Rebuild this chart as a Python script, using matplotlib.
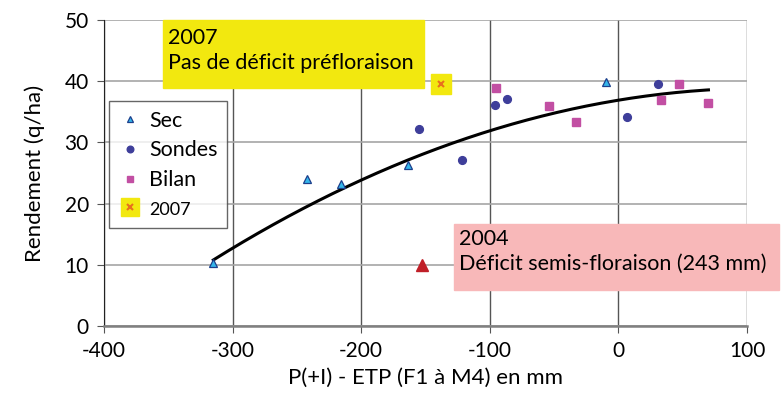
import matplotlib
matplotlib.use("Agg")
import matplotlib.pyplot as plt
from matplotlib.patches import Rectangle
from matplotlib.legend_handler import HandlerTuple
import numpy as np

plt.rcParams['font.family'] = ['Lato', 'DejaVu Sans']
plt.rcParams['axes.unicode_minus'] = False

# données
sec_x = [-315, -242, -216, -164, -10]
sec_y = [10.3, 24.0, 23.2, 26.3, 39.8]
sondes_x = [-155, -122, -96, -87, 7, 31]
sondes_y = [32.2, 27.1, 36.1, 37.1, 34.1, 39.6]
bilan_x = [-95, -54, -33, 33, 47, 70]
bilan_y = [38.9, 35.9, 33.3, 36.9, 39.5, 36.4]
y2007_x = [-138]
y2007_y = [39.5]
y2004_x = [-153]
y2004_y = [10.0]
# courbe de tendance (polynôme d'ordre 2)
trend_coef = [-1.53e-4, 0.0347, 36.9]
trend_range = [-315, 70]

fig = plt.figure(figsize=(7.81, 4.0), dpi=100)
ax = fig.add_axes([0.1332, 0.185, 0.8233, 0.765])

tx = np.linspace(trend_range[0], trend_range[1], 200)
ax.plot(tx, np.polyval(trend_coef, tx), color='black', lw=2.2, zorder=3)

h_sec, = ax.plot(sec_x, sec_y, ls='none', marker='^', ms=5.5, mfc='#35b6ea',
                 mec='#1c3f8c', mew=0.9, zorder=4)
h_son, = ax.plot(sondes_x, sondes_y, ls='none', marker='o', ms=5.6, mfc='#3e3e9a',
                 mec='#3e3e9a', zorder=4)
h_bil, = ax.plot(bilan_x, bilan_y, ls='none', marker='s', ms=5.4, mfc='#c24fa3',
                 mec='#c24fa3', zorder=4)
h_sq, = ax.plot(y2007_x, y2007_y, ls='none', marker='s', ms=14.5, mfc='#f2e80f',
                mec='#f2e80f', zorder=4)
h_x, = ax.plot(y2007_x, y2007_y, ls='none', marker='x', ms=4.5, mec='#e8701e',
               mew=1.5, zorder=5)
ax.plot(y2004_x, y2004_y, ls='none', marker='^', ms=9, mfc='#c01f28',
        mec='#c01f28', zorder=4)

ax.set_xlim(-400, 100)
ax.set_ylim(0, 50)
ax.set_xticks(range(-400, 101, 100))
ax.set_yticks(range(0, 51, 10))
ax.grid(axis='x', color='#555555', lw=1.0)
ax.grid(axis='y', color='#a6a6a6', lw=1.2)
ax.set_axisbelow(True)
for s in ['top', 'right']:
    ax.spines[s].set_visible(False)
ax.spines['left'].set_color('#222222')
ax.spines['bottom'].set_color('#808080')
ax.spines['bottom'].set_linewidth(1.8)
ax.tick_params(axis='both', labelsize=15, direction='out', length=5, color='#555555')
ax.tick_params(axis='x', pad=6)
ax.tick_params(axis='y', pad=6)
ax.set_xlabel('P(+I) - ETP (F1 à M4) en mm', fontsize=16, labelpad=5)
ax.set_ylabel('Rendement (q/ha)', fontsize=16, labelpad=14)

leg = ax.legend([h_sec, h_son, h_bil, (h_sq, h_x)], ['Sec', 'Sondes', 'Bilan', '2007'],
                handler_map={tuple: HandlerTuple(ndivide=1, pad=0)},
                loc='upper left', bbox_to_anchor=(0.008, 0.735), fontsize=15.5,
                frameon=True, fancybox=False, edgecolor='#404040',
                handlelength=1.0, handletextpad=0.4, borderpad=0.45,
                labelspacing=0.45, markerscale=0.85, borderaxespad=0)
leg.get_frame().set_linewidth(1.0)
leg.get_texts()[3].set_fontsize(13)

# encadrés d'annotation
fig.add_artist(Rectangle((163 / 781, 1 - 88 / 400), 261 / 781, 68 / 400,
                         transform=fig.transFigure, color='#f2e80f', zorder=2))
fig.text(168 / 781, 1 - 28 / 400, '2007\nPas de déficit préfloraison', fontsize=15.5,
         va='top', ha='left', linespacing=1.3, zorder=3)
fig.add_artist(Rectangle((454 / 781, 1 - 290 / 400), 325 / 781, 66 / 400,
                         transform=fig.transFigure, color='#f8b8b9', zorder=2))
fig.text(459 / 781, 1 - 229 / 400, '2004\nDéficit semis-floraison (243 mm)', fontsize=15.5,
         va='top', ha='left', linespacing=1.3, zorder=3)

fig.savefig('out.png', dpi=100)
